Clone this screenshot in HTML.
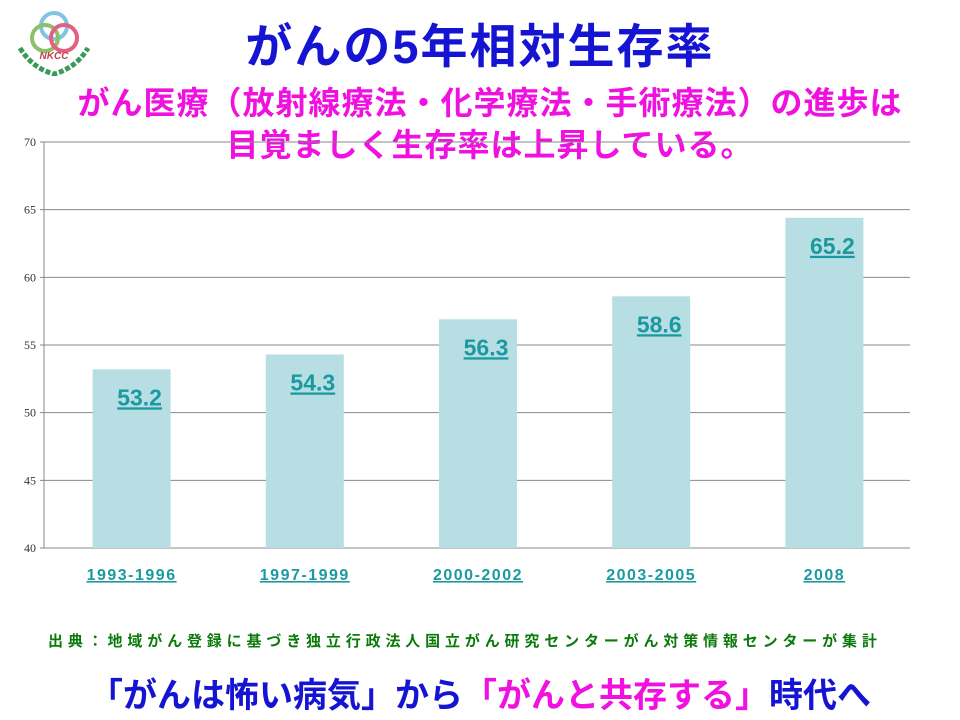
<!DOCTYPE html>
<html><head><meta charset="utf-8"><style>
body{margin:0;background:#fff;width:960px;height:720px;overflow:hidden;position:relative;font-family:"Liberation Sans","Noto Sans CJK JP",sans-serif}
.t{position:absolute;white-space:nowrap}
</style></head><body>
<svg style="position:absolute;left:14px;top:6px" width="80" height="70">
<circle cx="40" cy="20" r="13" fill="none" stroke="#7fc4e0" stroke-width="4"/>
<circle cx="31" cy="32" r="13" fill="none" stroke="#8cc06a" stroke-width="4"/>
<circle cx="50" cy="32" r="13" fill="none" stroke="#e46080" stroke-width="4"/>
<text x="40" y="53" font-size="10" font-weight="bold" fill="#c04050" text-anchor="middle" font-style="italic">NKCC</text>
<path d="M6 42 Q18 62 40 68 Q62 62 74 42" fill="none" stroke="#3a9a5a" stroke-width="5" stroke-dasharray="5 2"/>
</svg>
<div class="t" style="left:0;width:960px;text-align:center;top:8px;font-size:47px;letter-spacing:2px;font-weight:bold;color:#1414d2">がんの5年相対生存率</div>
<div class="t" style="left:20px;width:940px;text-align:center;top:82px;font-size:32px;letter-spacing:1px;font-weight:bold;color:#f010e0;line-height:42px">がん医療（放射線療法・化学療法・手術療法）の進歩は<br>目覚ましく生存率は上昇している。</div>
<svg id="chart" style="position:absolute;left:0;top:0" width="960" height="720"></svg>
<div class="t" style="left:48px;top:630px;font-size:15px;letter-spacing:4.85px;font-weight:bold;color:#0a7a0a">出典：地域がん登録に基づき独立行政法人国立がん研究センターがん対策情報センターが集計</div>
<div class="t" style="left:0;width:960px;text-align:center;top:668px;font-size:34px;font-weight:bold;color:#1414d2">「がんは怖い病気」から<span style="color:#f010e0">「がんと共存する」</span>時代へ</div>
<script>
const categories=["1993-1996","1997-1999","2000-2002","2003-2005","2008"];
const barValues=[53.2,54.3,56.9,58.6,64.4];
const labelValues=["53.2","54.3","56.3","58.6","65.2"];
const yTicks=[40,45,50,55,60,65,70];
const svg=document.getElementById('chart');
const NS='http://www.w3.org/2000/svg';
const L=44,R=910,T=142,B=548,yMin=40,yMax=70;
const y=v=>B-(v-yMin)/(yMax-yMin)*(B-T);
const band=(R-L)/categories.length;
const xc=i=>L+band*(i+0.5);
function mk(tag,attrs,text){const e=document.createElementNS(NS,tag);for(const k in attrs)e.setAttribute(k,attrs[k]);if(text!=null)e.textContent=text;svg.appendChild(e);return e;}
yTicks.forEach(v=>{
 const g=mk('line',{x1:L-4,x2:R,y1:y(v),y2:y(v),stroke:'#888','stroke-width':1});
 
 
 const t=mk('text',{x:36,y:y(v)+4,'font-size':12,'text-anchor':'end','font-family':'Liberation Serif,serif',fill:'#333'},v);
 
 
});
const ax=mk('line',{x1:L,x2:L,y1:T,y2:B,stroke:'#888'});


categories.forEach((c,i)=>{
 const w=78;
 const r=mk('rect',{x:xc(i)-w/2+1,y:y(barValues[i]),width:w,height:B-y(barValues[i]),fill:'#b7dfe3'});
 
 
 const lt=mk('text',{x:xc(i)+9,y:y(barValues[i])+36,'font-size':23,'font-weight':'bold','text-anchor':'middle',fill:'#1a9aa0','text-decoration':'underline'},labelValues[i]);
 
 
 const xt=mk('text',{x:xc(i)+1,y:580,'font-size':16,'letter-spacing':'1.5','font-weight':'bold','text-anchor':'middle',fill:'#1a9aa0','text-decoration':'underline'},c);
 
 
});
</script>
</body></html>
